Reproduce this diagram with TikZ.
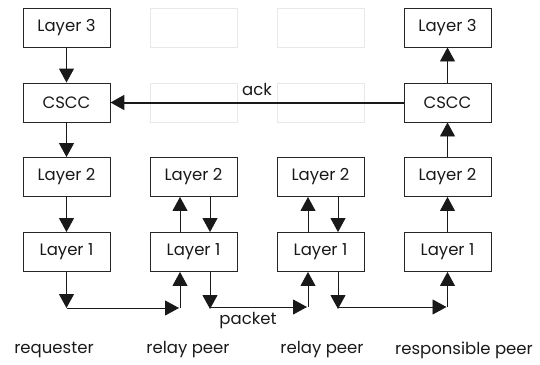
\documentclass[tikz,border=0pt]{standalone}
\usepackage{fontspec}
\setmainfont{Poppins}
\usetikzlibrary{arrows.meta}
\tikzset{
  box/.style={draw=black!85,line width=0.9pt,minimum width=87pt,minimum height=39pt,inner sep=0pt,font=\fontsize{16.5}{19}\selectfont,text=black!90},
  ghost/.style={draw=black!9,line width=0.9pt,minimum width=87pt,minimum height=39pt,inner sep=0pt},
  bigtip/.tip={Triangle[length=14pt,width=15pt]},
  arr/.style={draw=black!90,line width=0.9pt,-bigtip},
  lbl/.style={font=\fontsize{16.5}{19}\selectfont,text=black!90,inner sep=0pt}}
\begin{document}
\begin{tikzpicture}[x=1pt,y=-1pt]
\useasboundingbox (0,0) rectangle (540,364);
% column 1
\node[box] (l3a) at (66.5,27.5) {Layer 3};
\node[box] (ca)  at (66.5,102.5) {CSCC};
\node[box] (l2a) at (66.5,177) {Layer 2};
\node[box] (l1a) at (66.5,252) {Layer 1};
% column 2
\node[ghost] (g3b) at (193.5,27.5) {};
\node[ghost] (gcb) at (193.5,102.5) {};
\node[box] (l2b) at (193.5,177) {Layer 2};
\node[box] (l1b) at (193.5,252) {Layer 1};
% column 3
\node[ghost] (g3c) at (320.5,27.5) {};
\node[ghost] (gcc) at (320.5,102.5) {};
\node[box] (l2c) at (320.5,177) {Layer 2};
\node[box] (l1c) at (320.5,252) {Layer 1};
% column 4
\node[box] (l3d) at (447.5,27.5) {Layer 3};
\node[box] (cd)  at (447.5,102.5) {CSCC};
\node[box] (l2d) at (447.5,177) {Layer 2};
\node[box] (l1d) at (447.5,252) {Layer 1};
% routing points
\coordinate (a1) at (66.5,308);
\coordinate (b1) at (180,308);
\coordinate (b2) at (210,308);
\coordinate (c1) at (308,308);
\coordinate (c2) at (338,308);
\coordinate (d1) at (447.5,308);
% column 1 arrows
\draw[arr] (l3a) -- (ca);
\draw[arr] (ca) -- (l2a);
\draw[arr] (l2a) -- (l1a);
\draw[arr] (l1a) -- (a1);
\draw[arr,shorten >=1pt] (a1) -- (b1);
% column 2 arrows
\draw[arr] (b1) -- (b1 |- l1b.south);
\draw[arr] (b1 |- l1b.north) -- (b1 |- l2b.south);
\draw[arr] (b2 |- l2b.south) -- (b2 |- l1b.north);
\draw[arr] (b2 |- l1b.south) -- ([yshift=-1pt]b2);
\draw[arr,shorten >=1pt] ([yshift=1pt]b2) -- ([yshift=1pt]c1);
% column 3 arrows
\draw[arr] ([yshift=1pt]c1) -- (c1 |- l1c.south);
\draw[arr] (c1 |- l1c.north) -- (c1 |- l2c.south);
\draw[arr] (c2 |- l2c.south) -- (c2 |- l1c.north);
\draw[arr] (c2 |- l1c.south) -- ([yshift=-1pt]c2);
\draw[arr,shorten >=1pt] ([yshift=1pt]c2) -- ([yshift=1pt]d1);
% column 4 arrows
\draw[arr] ([yshift=1pt]d1) -- (l1d);
\draw[arr] (l1d) -- (l2d);
\draw[arr] (l2d) -- (cd);
\draw[arr] (cd) -- (l3d);
% ack
\draw[arr,line width=2pt] (cd) -- (ca);
\node[lbl] (ack) at (257,89) {ack};
\node[lbl] (pkt) at (248,321) {packet};
% bottom labels
\node[lbl] (req) at (54,350) {requester};
\node[lbl] (rp1) at (188,350) {relay peer};
\node[lbl] (rp2) at (322,350) {relay peer};
\node[lbl] (rsp) at (464,350) {responsible peer};
\end{tikzpicture}
\end{document}
